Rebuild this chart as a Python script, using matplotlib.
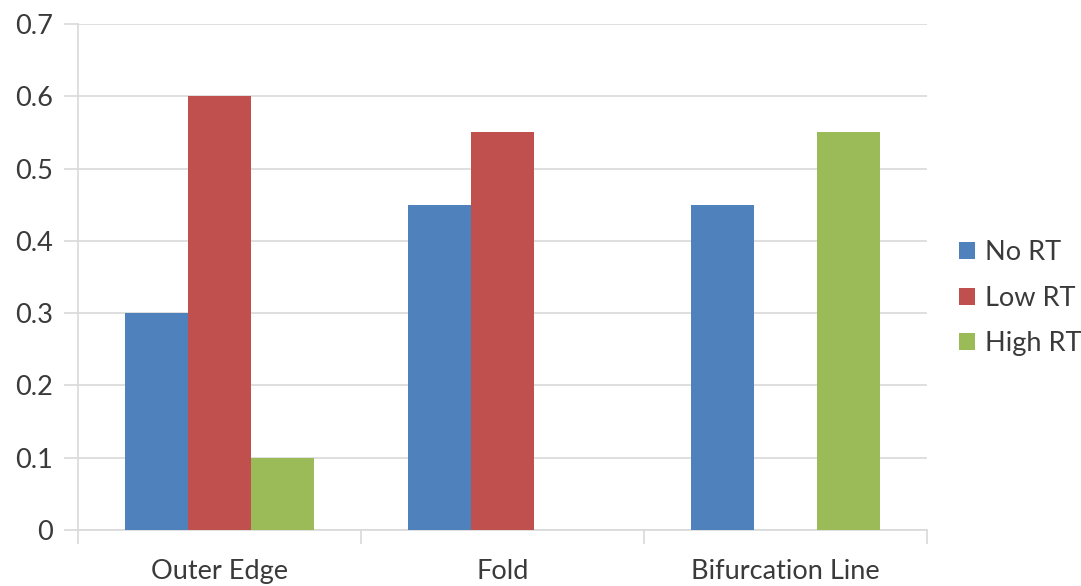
import numpy as np
import matplotlib.pyplot as plt

categories = ['Outer Edge', 'Fold', 'Bifurcation Line']
series_names = ['No RT', 'Low RT', 'High RT']
no_rt = [0.3, 0.45, 0.45]
low_rt = [0.6, 0.55, 0.0]
high_rt = [0.1, 0.0, 0.55]
colors = ['#4f81bd', '#c0504d', '#9bbb59']
yticks = [0, 0.1, 0.2, 0.3, 0.4, 0.5, 0.6, 0.7]
ytick_labels = ['0', '0.1', '0.2', '0.3', '0.4', '0.5', '0.6', '0.7']

plt.rcParams['font.family'] = ['Lato', 'DejaVu Sans']
text_col = '#3a3a3a'
grid_col = '#d9d9d9'

fig = plt.figure(figsize=(10.81, 5.86), dpi=100)
ax = fig.add_axes([0.0722, 0.0956, 0.7853, 0.8634])

x = np.arange(len(categories))
w = 0.222
for i, (vals, name) in enumerate(zip([no_rt, low_rt, high_rt], series_names)):
    ax.bar(x + (i - 1) * w, vals, w, color=colors[i], label=name, zorder=3)

ax.set_xlim(-0.5, 2.5)
ax.set_ylim(0, 0.7)
ax.set_yticks(yticks)
ax.set_yticklabels(ytick_labels)
ax.set_xticks(x)
ax.set_xticklabels(categories)
ax.set_xticks([-0.5, 0.5, 1.5, 2.5], minor=True)
ax.tick_params(axis='x', which='major', length=0, pad=21, labelsize=19.5, labelcolor=text_col)
ax.tick_params(axis='x', which='minor', length=10, color=grid_col, width=1.2)
ax.tick_params(axis='y', length=10, color=grid_col, width=1.2, pad=8, labelsize=19.5, labelcolor=text_col)
ax.grid(axis='y', color=grid_col, linewidth=1.2, zorder=0)

for s in ['top', 'right']:
    ax.spines[s].set_visible(False)
ax.spines['left'].set_color(grid_col)
ax.spines['bottom'].set_color(grid_col)
ax.spines['left'].set_linewidth(1.2)
ax.spines['bottom'].set_linewidth(1.2)

leg = ax.legend(loc='center left', bbox_to_anchor=(1.025, 0.458), frameon=False,
                fontsize=19.5, handlelength=0.6, handleheight=0.6, handletextpad=0.35,
                labelspacing=0.75, labelcolor=text_col, borderaxespad=0)

fig.savefig('out.png', dpi=100)
